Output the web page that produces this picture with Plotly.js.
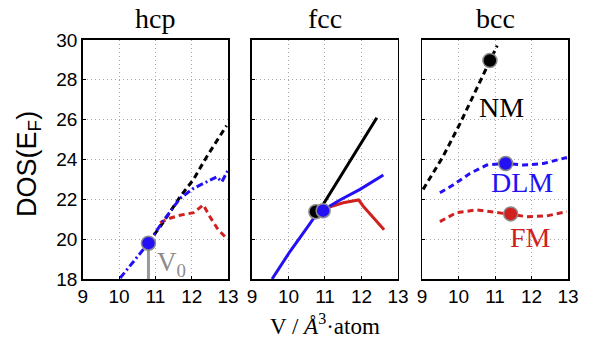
<!DOCTYPE html>
<html><head><meta charset="utf-8">
<script src="https://cdn.plot.ly/plotly-3.0.1.min.js"></script>
<style>body{margin:0;background:#fff}#c{width:601px;height:341px}</style>
</head><body><div id="c"></div>
<script>
// hcp
const hcpNM_x = [10.8, 11.2, 11.68, 12.05, 12.41, 12.96];
const hcpNM_y = [19.8, 20.8, 22.13, 23.0, 24.13, 25.7];
const hcpDLM_x = [10.03, 10.4, 10.81, 11.17, 11.68, 12.05, 12.5, 12.69, 12.83, 13.0];
const hcpDLM_y = [18.05, 18.9, 19.8, 20.8, 22.05, 22.55, 22.97, 23.13, 22.88, 23.47];
const hcpFM_x = [11.13, 11.4, 11.68, 12.05, 12.32, 12.5, 12.73, 12.96];
const hcpFM_y = [20.83, 21.05, 21.2, 21.33, 21.72, 21.13, 20.47, 20.05];
const hcpV0 = [10.81];
const hcpV0_dos = [19.8];
// fcc
const fccNM_x = [10.72, 10.91, 12.42];
const fccNM_y = [21.3, 21.63, 26.1];
const fccDLM_x = [9.55, 10.04, 10.5, 10.72, 10.95, 11.41, 11.96, 12.6];
const fccDLM_y = [18.0, 19.38, 20.55, 21.13, 21.47, 21.97, 22.5, 23.22];
const fccFM_x = [10.72, 11.14, 11.5, 11.92, 12.06, 12.33, 12.62];
const fccFM_y = [21.05, 21.63, 21.83, 21.97, 21.63, 21.05, 20.47];
const fccMarkNM = {x: [10.75], y: [21.38]};
const fccMarkDLM = {x: [10.95], y: [21.43]};
// bcc
const bccNM_x = [9.03, 9.57, 10.04, 10.5, 10.86, 11.06];
const bccNM_y = [22.5, 24.13, 25.8, 27.55, 28.97, 29.72];
const bccDLM_x = [9.49, 9.85, 10.31, 10.77, 11.28, 11.78, 12.33, 12.97];
const bccDLM_y = [22.33, 22.72, 23.3, 23.72, 23.8, 23.72, 23.8, 24.1];
const bccFM_x = [9.49, 9.94, 10.5, 10.95, 11.41, 11.87, 12.42, 12.97];
const bccFM_y = [20.88, 21.33, 21.47, 21.38, 21.25, 21.13, 21.17, 21.38];
const bccMarkNM = {x: [10.86], y: [28.97]};
const bccMarkDLM = {x: [11.29], y: [23.8]};
const bccMarkFM = {x: [11.43], y: [21.27]};

const panelTitles = ['hcp', 'fcc', 'bcc'];
const xTicks = [9, 10, 11, 12, 13];
const yTicks = [18, 20, 22, 24, 26, 28, 30];

const BLACK = '#000000', BLUE = '#2410f5', RED = '#d0201f', GRAY = '#8c8c8c';
const W = 3;
function line(x, y, color, dash, ax) {
  return {x, y, type: 'scatter', mode: 'lines', xaxis: 'x' + ax, yaxis: 'y' + ax,
    line: {color, width: W, dash}, hoverinfo: 'skip', showlegend: false};
}
function mark(x, y, color, ax) {
  return {x, y, type: 'scatter', mode: 'markers', xaxis: 'x' + ax, yaxis: 'y' + ax,
    marker: {color, size: 14, line: {color: GRAY, width: 1.5}}, showlegend: false};
}
const d1 = '6px,4px', dd = '7px,3px,2px,3px';
const data = [
  // hcp
  {x: [hcpV0[0], hcpV0[0]], y: [18, hcpV0_dos[0]], type: 'scatter', mode: 'lines',
   xaxis: 'x', yaxis: 'y', line: {color: '#999', width: 3}, showlegend: false},
  line(hcpNM_x, hcpNM_y, BLACK, d1, ''),
  line(hcpFM_x, hcpFM_y, RED, d1, ''),
  line(hcpDLM_x, hcpDLM_y, BLUE, dd, ''),
  mark(hcpV0, hcpV0_dos, BLUE, ''),
  // fcc
  line(fccNM_x, fccNM_y, BLACK, 'solid', '2'),
  line(fccFM_x, fccFM_y, RED, 'solid', '2'),
  line(fccDLM_x, fccDLM_y, BLUE, 'solid', '2'),
  mark(fccMarkNM.x, fccMarkNM.y, BLACK, '2'),
  mark(fccMarkDLM.x, fccMarkDLM.y, BLUE, '2'),
  // bcc
  line(bccNM_x, bccNM_y, BLACK, d1, '3'),
  line(bccDLM_x, bccDLM_y, BLUE, d1, '3'),
  line(bccFM_x, bccFM_y, RED, d1, '3'),
  mark(bccMarkNM.x, bccMarkNM.y, BLACK, '3'),
  mark(bccMarkDLM.x, bccMarkDLM.y, BLUE, '3'),
  mark(bccMarkFM.x, bccMarkFM.y, RED, '3'),
];

const tickFont = {family: 'Liberation Sans, Arial, sans-serif', size: 19, color: '#000'};
function xa(dom, anchor) {
  return {domain: dom, range: [9, 13], tickvals: xTicks, ticktext: xTicks.map(String),
    showgrid: true, gridcolor: '#aaaaaa', griddash: '1px,3px', gridwidth: 1,
    showline: true, mirror: true, linecolor: '#000', linewidth: 1.5,
    ticks: 'inside', ticklen: 3, tickcolor: '#000', tickfont: tickFont, zeroline: false,
    anchor, fixedrange: true};
}
function ya(anchor, labels) {
  return {domain: [0.1818, 0.8827], range: [18, 30], tickvals: yTicks,
    ticktext: yTicks.map(String), showticklabels: labels,
    showgrid: true, gridcolor: '#aaaaaa', griddash: '1px,3px', gridwidth: 1,
    showline: true, mirror: true, linecolor: '#000', linewidth: 1.5,
    ticks: 'inside', ticklen: 3, tickcolor: '#000', tickfont: tickFont, zeroline: false,
    anchor, fixedrange: true};
}
const doms = [[0.1376, 0.3794], [0.4193, 0.6622], [0.7022, 0.9451]];
const serif = 'Liberation Serif, Times New Roman, serif';
const annotations = panelTitles.map((t, i) => ({
  text: t, xref: 'paper', yref: 'paper', x: (doms[i][0] + doms[i][1]) / 2, y: 0.895,
  xanchor: 'center', yanchor: 'bottom', showarrow: false,
  font: {family: serif, size: 28, color: '#000'}}));
annotations.push(
  {text: 'V<sub>0</sub>', xref: 'x', yref: 'y', x: 11.0, y: 18.75, xanchor: 'left', yanchor: 'middle',
   showarrow: false, font: {family: serif, size: 27, color: '#8c8c8c'}},
  {text: 'NM', xref: 'x3', yref: 'y3', x: 11.18, y: 26.6, xanchor: 'center', yanchor: 'middle',
   showarrow: false, font: {family: serif, size: 28, color: '#000'}},
  {text: 'DLM', xref: 'x3', yref: 'y3', x: 11.75, y: 22.85, xanchor: 'center', yanchor: 'middle',
   showarrow: false, font: {family: serif, size: 28, color: BLUE}},
  {text: 'FM', xref: 'x3', yref: 'y3', x: 11.96, y: 20.1, xanchor: 'center', yanchor: 'middle',
   showarrow: false, font: {family: serif, size: 28, color: RED}},
  {text: 'V / <i>Å</i><sup>3</sup>·atom', xref: 'paper', yref: 'paper', x: 0.541, y: 0.0, xanchor: 'center', yanchor: 'bottom',
   showarrow: false, font: {family: serif, size: 23, color: '#000'}},
  {text: 'DOS(E<sub>F</sub>)', xref: 'paper', yref: 'paper', x: 0.047, y: 0.52, xanchor: 'center', yanchor: 'middle',
   textangle: -90, showarrow: false, font: {family: 'Liberation Sans, Arial, sans-serif', size: 27, color: '#000'}}
);
const layout = {
  width: 601, height: 341, margin: {l: 0, r: 0, t: 0, b: 0},
  paper_bgcolor: '#fff', plot_bgcolor: '#fff', showlegend: false,
  xaxis: xa(doms[0], 'y'), yaxis: ya('x', true),
  xaxis2: xa(doms[1], 'y2'), yaxis2: ya('x2', false),
  xaxis3: xa(doms[2], 'y3'), yaxis3: ya('x3', false),
  annotations
};
Plotly.newPlot('c', data, layout, {staticPlot: true, displayModeBar: false});
</script></body></html>
